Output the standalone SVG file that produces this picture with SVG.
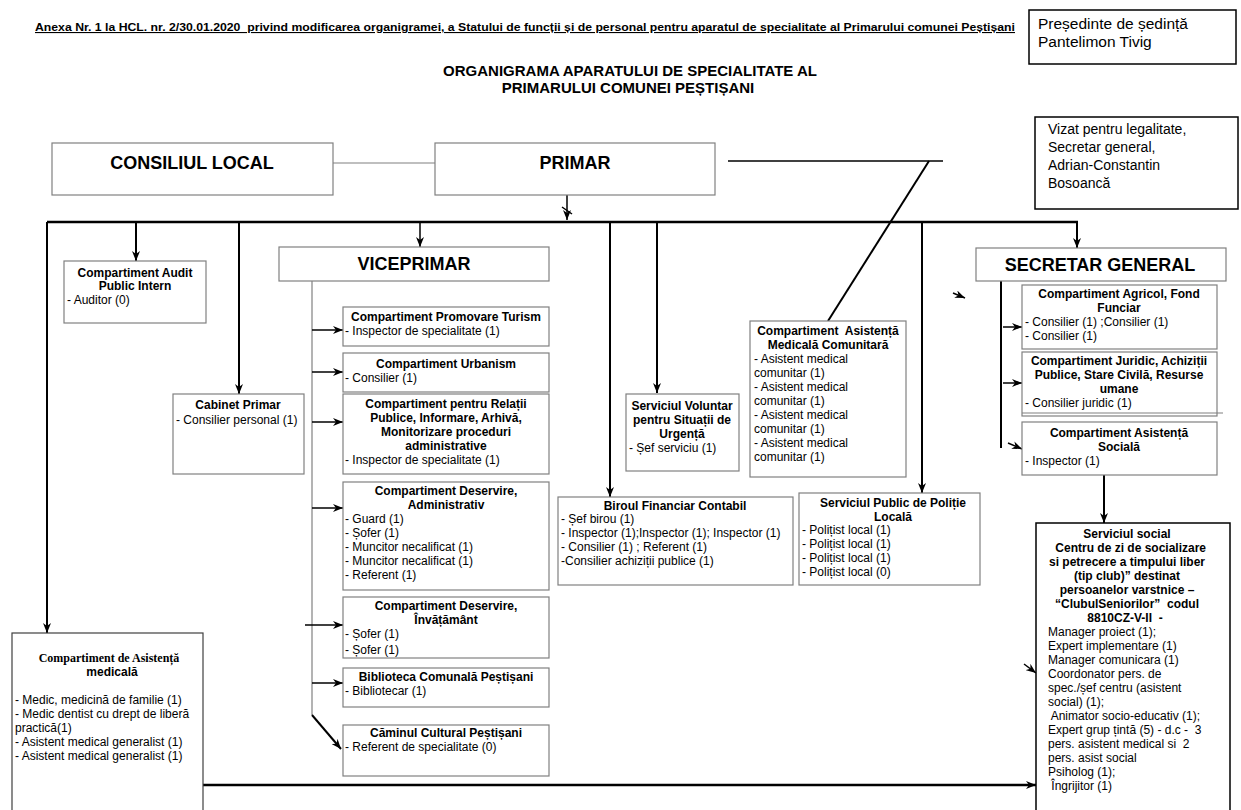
<svg xmlns="http://www.w3.org/2000/svg" width="1241" height="810" viewBox="0 0 1241 810">
<defs>
<style>
.bx{fill:#fff;stroke:#808080;stroke-width:1.2}
.bk{fill:#fff;stroke:#000;stroke-width:1.5}
.t{font-family:"Liberation Sans",Arial,sans-serif;font-size:12px;fill:#000;white-space:pre}
.b{font-weight:bold}
.c{text-anchor:middle}
.big{font-size:18px;font-weight:bold}
.ln{stroke:#000;stroke-width:2;fill:none}
.th{stroke:#000;stroke-width:1.5;fill:none}
.gr{stroke:#808080;stroke-width:1.2;fill:none}
</style>
<marker id="a" viewBox="0 0 10 8" refX="10" refY="4" markerWidth="10" markerHeight="8" markerUnits="userSpaceOnUse" orient="auto">
<path d="M0,0 L10,4 L0,8 L3,4 z" fill="#000"/>
</marker>
<clipPath id="clipInv"><rect x="343" y="597" width="206" height="60"/></clipPath>
</defs>
<rect x="0" y="0" width="1241" height="810" fill="#fff"/>

<g id="header">
<text x="35" y="31" class="t b" style="font-size:11px;text-decoration:underline" textLength="980" lengthAdjust="spacingAndGlyphs">Anexa Nr. 1 la HCL. nr. 2/30.01.2020  privind modificarea organigramei, a Statului de funcții și de personal pentru aparatul de specialitate al Primarului comunei Peștișani</text>
<text x="630" y="76" class="t b c" style="font-size:15px">ORGANIGRAMA APARATULUI DE SPECIALITATE AL</text>
<text x="628" y="93" class="t b c" style="font-size:15px">PRIMARULUI COMUNEI PEȘTIȘANI</text>
</g>

<g id="presedinte">
<rect x="1029" y="10" width="207" height="54" class="bk"/>
<text x="1038" y="29" class="t" style="font-size:15.5px">Președinte de ședință</text>
<text x="1038" y="47" class="t" style="font-size:15.5px">Pantelimon Tivig</text>
</g>

<g id="vizat">
<rect x="1035" y="117" width="203" height="92" class="bk"/>
<text x="1048" y="134" class="t" style="font-size:14px">Vizat pentru legalitate,</text>
<text x="1048" y="152" class="t" style="font-size:14px">Secretar general,</text>
<text x="1048" y="170" class="t" style="font-size:14px">Adrian-Constantin</text>
<text x="1048" y="188" class="t" style="font-size:14px">Bosoancă</text>
</g>

<g id="connectors">
<line x1="333" y1="163" x2="435" y2="163" class="gr"/>
<line x1="728" y1="161" x2="943" y2="161" class="th"/>
<line x1="929" y1="161" x2="828" y2="321" class="ln"/>
<line x1="567" y1="195" x2="567" y2="220" class="th" marker-end="url(#a)"/>
<line x1="562" y1="207" x2="572" y2="214" class="th"/>
<line x1="47" y1="222" x2="1078" y2="222" class="ln" style="stroke-width:2.5"/>
<line x1="47" y1="222" x2="47" y2="633" class="ln" marker-end="url(#a)"/>
<line x1="136" y1="222" x2="136" y2="261" class="ln" marker-end="url(#a)"/>
<line x1="239" y1="222" x2="239" y2="394" class="ln" marker-end="url(#a)"/>
<line x1="420" y1="222" x2="420" y2="247" class="th" marker-end="url(#a)"/>
<line x1="610" y1="222" x2="610" y2="497" class="ln" marker-end="url(#a)"/>
<line x1="657" y1="222" x2="657" y2="393" class="ln" marker-end="url(#a)"/>
<line x1="922" y1="222" x2="922" y2="493" class="ln" marker-end="url(#a)"/>
<line x1="1077" y1="222" x2="1077" y2="248" class="ln" marker-end="url(#a)"/>
<line x1="312" y1="281" x2="312" y2="715" class="gr"/>
<line x1="312" y1="715" x2="341" y2="749" class="ln" marker-end="url(#a)"/>
<line x1="312" y1="330" x2="343" y2="330" class="th" marker-end="url(#a)"/>
<line x1="312" y1="372" x2="343" y2="372" class="th" marker-end="url(#a)"/>
<line x1="312" y1="422" x2="343" y2="422" class="th" marker-end="url(#a)"/>
<line x1="312" y1="508" x2="343" y2="508" class="th" marker-end="url(#a)"/>
<line x1="305" y1="625" x2="343" y2="625" class="th" marker-end="url(#a)"/>
<line x1="312" y1="683" x2="343" y2="683" class="th" marker-end="url(#a)"/>
<line x1="1001" y1="281" x2="1001" y2="448" class="ln"/>
<line x1="1003" y1="327" x2="1022" y2="327" class="th" marker-end="url(#a)"/>
<line x1="1003" y1="383" x2="1022" y2="383" class="th" marker-end="url(#a)"/>
<line x1="1008" y1="443" x2="1022" y2="449" class="th" marker-end="url(#a)"/>
<line x1="1104" y1="475" x2="1104" y2="523" class="ln" marker-end="url(#a)"/>
<line x1="203" y1="785" x2="1036" y2="785" class="ln" style="stroke-width:2.5" marker-end="url(#a)"/>
<line x1="953" y1="293" x2="965" y2="298" class="th" marker-end="url(#a)"/>
<line x1="1024" y1="664" x2="1036" y2="673" class="th" marker-end="url(#a)"/>
</g>

<g id="consiliul-local">
<rect x="52" y="143" width="281" height="52" class="bx"/>
<text x="192" y="169" class="t big c">CONSILIUL LOCAL</text>
</g>

<g id="primar">
<rect x="435" y="143" width="280" height="52" class="bx"/>
<text x="575" y="169" class="t big c">PRIMAR</text>
</g>

<g id="audit">
<rect x="64" y="261" width="142" height="62" class="bx"/>
<text x="135" y="277" class="t b c">Compartiment Audit</text>
<text x="135" y="290" class="t b c">Public Intern</text>
<text x="67" y="304" class="t">- Auditor (0)</text>
</g>

<g id="cabinet">
<rect x="173" y="394" width="131" height="80" class="bx"/>
<text x="238" y="409" class="t b c">Cabinet Primar</text>
<text x="176" y="424" class="t">- Consilier personal (1)</text>
</g>

<g id="viceprimar">
<rect x="279" y="247" width="270" height="34" class="bx"/>
<text x="414" y="270" class="t big c">VICEPRIMAR</text>
</g>

<g id="secretar-general">
<rect x="976" y="248" width="250" height="33" class="bx"/>
<text x="1100" y="271" class="t big c">SECRETAR GENERAL</text>
</g>

<g id="promovare">
<rect x="343" y="307" width="206" height="39" class="bx"/>
<text x="446" y="321" class="t b c">Compartiment Promovare Turism</text>
<text x="345" y="335" class="t">- Inspector de specialitate (1)</text>
</g>

<g id="urbanism">
<rect x="343" y="353" width="206" height="39" class="bx"/>
<text x="446" y="368" class="t b c">Compartiment Urbanism</text>
<text x="345" y="382" class="t">- Consilier (1)</text>
</g>

<g id="relatii">
<rect x="343" y="394" width="206" height="80" class="bx"/>
<text x="446" y="408" class="t b c">Compartiment pentru Relații</text>
<text x="446" y="422" class="t b c">Publice, Informare, Arhivă,</text>
<text x="446" y="436" class="t b c">Monitorizare proceduri</text>
<text x="446" y="450" class="t b c">administrative</text>
<text x="345" y="464" class="t">- Inspector de specialitate (1)</text>
</g>

<g id="administrativ">
<rect x="343" y="482" width="206" height="108" class="bx"/>
<text x="446" y="495" class="t b c">Compartiment Deservire,</text>
<text x="446" y="509" class="t b c">Administrativ</text>
<text x="345" y="523" class="t">- Guard (1)</text>
<text x="345" y="537" class="t">- Șofer (1)</text>
<text x="345" y="551" class="t">- Muncitor necalificat (1)</text>
<text x="345" y="565" class="t">- Muncitor necalificat (1)</text>
<text x="345" y="579" class="t">- Referent (1)</text>
</g>

<g id="invatamant">
<rect x="343" y="597" width="206" height="61" class="bx"/>
<g clip-path="url(#clipInv)">
<text x="446" y="610" class="t b c">Compartiment Deservire,</text>
<text x="446" y="624" class="t b c">Învățământ</text>
<text x="345" y="638" class="t">- Șofer (1)</text>
<text x="345" y="654" class="t">- Șofer (1)</text>
</g>
</g>

<g id="biblioteca">
<rect x="343" y="668" width="206" height="39" class="bx"/>
<text x="446" y="681" class="t b c">Biblioteca Comunală Peștișani</text>
<text x="345" y="695" class="t">- Bibliotecar (1)</text>
</g>

<g id="caminul">
<rect x="343" y="725" width="206" height="51" class="bx"/>
<text x="446" y="737" class="t b c">Căminul Cultural Peștișani</text>
<text x="345" y="751" class="t">- Referent de specialitate (0)</text>
</g>

<g id="voluntar">
<rect x="626" y="394" width="113" height="77" class="bx"/>
<text x="682" y="410" class="t b c">Serviciul Voluntar</text>
<text x="682" y="424" class="t b c">pentru Situații de</text>
<text x="682" y="438" class="t b c">Urgență</text>
<text x="629" y="452" class="t">- Șef serviciu (1)</text>
</g>

<g id="asistenta-comunitara">
<rect x="750" y="321" width="156" height="156" class="bx"/>
<text x="828" y="335" class="t b c">Compartiment  Asistență</text>
<text x="828" y="349" class="t b c">Medicală Comunitară</text>
<text x="754" y="363" class="t">- Asistent medical</text>
<text x="754" y="377" class="t">comunitar (1)</text>
<text x="754" y="391" class="t">- Asistent medical</text>
<text x="754" y="405" class="t">comunitar (1)</text>
<text x="754" y="419" class="t">- Asistent medical</text>
<text x="754" y="433" class="t">comunitar (1)</text>
<text x="754" y="447" class="t">- Asistent medical</text>
<text x="754" y="461" class="t">comunitar (1)</text>
</g>

<g id="biroul-financiar">
<rect x="558" y="497" width="235" height="88" class="bx"/>
<text x="675" y="510" class="t b c">Biroul Financiar Contabil</text>
<text x="561" y="523" class="t">- Șef birou (1)</text>
<text x="561" y="537" class="t">- Inspector (1);Inspector (1); Inspector (1)</text>
<text x="561" y="551" class="t">- Consilier (1) ; Referent (1)</text>
<text x="561" y="565" class="t">-Consilier achiziții publice (1)</text>
</g>

<g id="politie">
<rect x="799" y="493" width="181" height="92" class="bx"/>
<text x="893" y="507" class="t b c">Serviciul Public de Poliție</text>
<text x="893" y="521" class="t b c">Locală</text>
<text x="802" y="534" class="t">- Polițist local (1)</text>
<text x="802" y="548" class="t">- Polițist local (1)</text>
<text x="802" y="562" class="t">- Polițist local (1)</text>
<text x="802" y="576" class="t">- Polițist local (0)</text>
</g>

<g id="agricol">
<rect x="1022" y="285" width="195" height="64" class="bx"/>
<text x="1119" y="298" class="t b c">Compartiment Agricol, Fond</text>
<text x="1119" y="312" class="t b c">Funciar</text>
<text x="1025" y="326" class="t">- Consilier (1) ;Consilier (1)</text>
<text x="1025" y="340" class="t">- Consilier (1)</text>
</g>

<g id="juridic">
<rect x="1022" y="352" width="195" height="64" class="bx"/>
<line x1="1022" y1="413" x2="1223" y2="413" class="gr"/>
<text x="1119" y="365" class="t b c">Compartiment Juridic, Achiziții</text>
<text x="1119" y="379" class="t b c">Publice, Stare Civilă, Resurse</text>
<text x="1119" y="393" class="t b c">umane</text>
<text x="1025" y="407" class="t">- Consilier juridic (1)</text>
</g>

<g id="asistenta-sociala">
<rect x="1022" y="422" width="195" height="53" class="bx"/>
<text x="1119" y="437" class="t b c">Compartiment Asistență</text>
<text x="1119" y="451" class="t b c">Socială</text>
<text x="1025" y="465" class="t">- Inspector (1)</text>
</g>

<g id="serviciul-social">
<rect x="1036" y="523" width="194" height="300" class="bk"/>
<text x="1127" y="538" class="t b c">Serviciul social</text>
<text x="1129" y="552" class="t b c"> Centru de zi de socializare</text>
<text x="1127" y="566" class="t b c">si petrecere a timpului liber</text>
<text x="1127" y="580" class="t b c">(tip club)” destinat</text>
<text x="1127" y="594" class="t b c">persoanelor varstnice –</text>
<text x="1127" y="608" class="t b c">“ClubulSeniorilor”  codul</text>
<text x="1125" y="622" class="t b c">8810CZ-V-II  -</text>
<text x="1048" y="636" class="t">Manager proiect (1);</text>
<text x="1048" y="650" class="t">Expert implementare (1)</text>
<text x="1048" y="664" class="t">Manager comunicara (1)</text>
<text x="1048" y="678" class="t">Coordonator pers. de</text>
<text x="1048" y="692" class="t">spec./șef centru (asistent</text>
<text x="1048" y="706" class="t">social) (1);</text>
<text x="1048" y="720" class="t"> Animator socio-educativ (1);</text>
<text x="1048" y="734" class="t">Expert grup țintă (5) - d.c -  3</text>
<text x="1048" y="748" class="t">pers. asistent medical si  2</text>
<text x="1048" y="762" class="t">pers. asist social</text>
<text x="1048" y="776" class="t">Psiholog (1);</text>
<text x="1048" y="790" class="t"> Îngrijitor (1)</text>
</g>

<g id="asistenta-medicala">
<rect x="12" y="633" width="191" height="190" class="bx" style="stroke:#404040"/>
<text x="109" y="662" class="c b" style="font-family:'Liberation Serif','Times New Roman',serif;font-size:12px">Compartiment de Asistență</text>
<text x="112" y="676" class="t b c">medicală</text>
<text x="15" y="704" class="t">- Medic, medicină de familie (1)</text>
<text x="15" y="718" class="t">- Medic dentist cu drept de liberă</text>
<text x="15" y="732" class="t">practică(1)</text>
<text x="15" y="746" class="t">- Asistent medical generalist (1)</text>
<text x="15" y="760" class="t">- Asistent medical generalist (1)</text>
</g>
</svg>
